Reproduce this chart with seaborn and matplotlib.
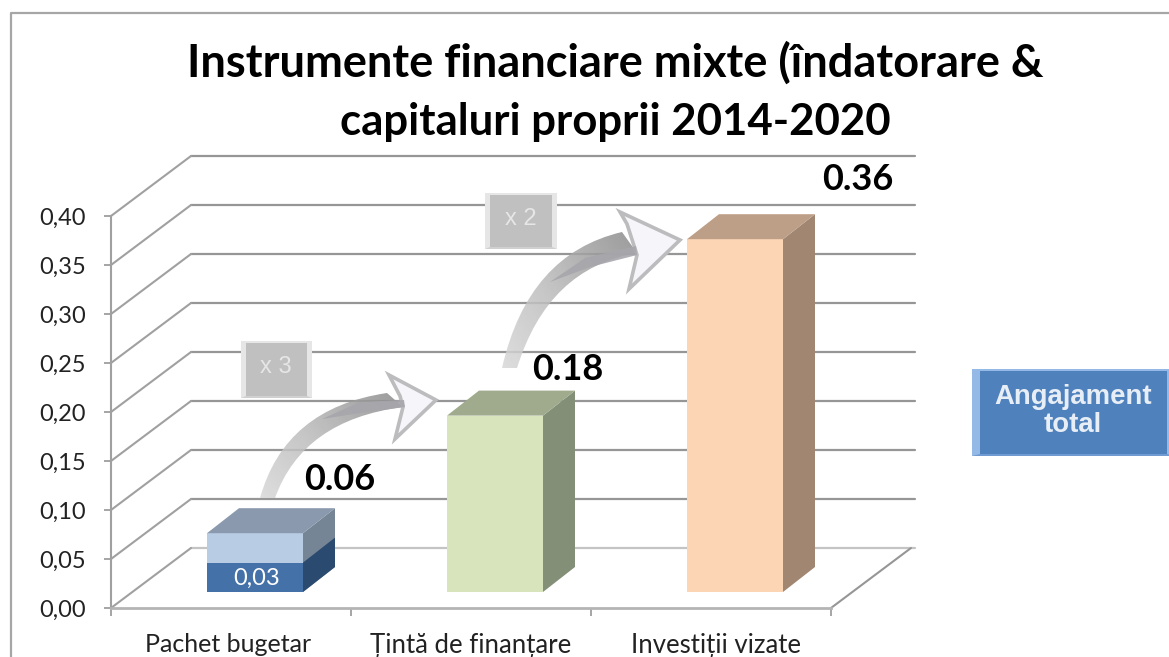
import numpy as np
import pandas as pd
import seaborn as sns
import matplotlib.pyplot as plt
from matplotlib.patches import PathPatch, Polygon, Rectangle
from matplotlib.path import Path
from matplotlib.transforms import Affine2D

# date din grafic
categorii = ['Pachet bugetar', 'Țintă de finanțare', 'Investiții vizate']
total = [0.06, 0.18, 0.36]
pachet = [0.03, 0, 0]
valori_y = [0.00, 0.05, 0.10, 0.15, 0.20, 0.25, 0.30, 0.35, 0.40]
titlu_1 = 'Instrumente financiare mixte (îndatorare &'
titlu_2 = 'capitaluri proprii 2014-2020'

culori_fata = ['#b8cce4', '#d8e4bc', '#fcd5b5']
culori_sus = ['#8a99ad', '#a0ab8d', '#bd9f88']
culori_lat = ['#768595', '#848f78', '#a18672']
fata_jos, lat_jos = '#4472a8', '#2b4a70'

W, H = 1169, 657
sns.set_theme(style='white')
plt.rcParams['font.family'] = ['Lato', 'DejaVu Sans']

fig = plt.figure(figsize=(W / 100, H / 100), dpi=100)
ax = fig.add_axes([111 / W, 1 - 608 / H, 720 / W, 392 / H], facecolor='none')

# scala: 240 px pe categorie, 980 px pe unitate
SX, SY = 1 / 240, 0.4 / 392
px = Affine2D().scale(SX, -SY).translate(-0.5 - 111 * SX, 608 * SY) + ax.transData

# pereti 3D in spatele barelor
PX, PY = 80 * SX, 60 * SY
for v in valori_y:
    c = '#c4c4c4' if v == 0 else '#969696'
    ax.plot([-0.5 + PX, 2.5 + PX + 4 * SX], [v + PY, v + PY], color=c, lw=1.6, clip_on=False, zorder=1)
    ax.plot([-0.5, -0.5 + PX], [v, v + PY], color='#a0a0a0', lw=1.5, clip_on=False, zorder=1)
ax.plot([2.5, 2.5 + PX], [0, PY], color='#969696', lw=1.5, clip_on=False, zorder=1)

df = pd.DataFrame({'categorie': categorii, 'total': total, 'pachet': pachet})
sns.barplot(data=df, x='categorie', y='total', hue='categorie', palette=culori_fata, legend=False,
            width=0.4, saturation=1, ax=ax, zorder=3)
n_total = len(ax.patches)
sns.barplot(data=df, x='categorie', y='pachet', color=fata_jos, width=0.4, saturation=1, ax=ax, zorder=4)

# bare mutate spre interior, cu fete laterale si de sus
BX, BY = 24 * SX, 16 * SY
AX_, AY_ = 32 * SX, 25 * SY
for k, p in enumerate(list(ax.patches)):
    p.set_x(p.get_x() + BX)
    p.set_y(p.get_y() + BY)
    p.set_clip_on(False)
    p.set_linewidth(0)
    x0, x1 = p.get_x(), p.get_x() + p.get_width()
    y0, y1 = p.get_y(), p.get_y() + p.get_height()
    if p.get_height() == 0:
        continue
    i = k % n_total
    lat = culori_lat[i] if k < n_total else lat_jos
    ax.add_patch(Polygon([(x1, y0), (x1 + AX_, y0 + AY_), (x1 + AX_, y1 + AY_), (x1, y1)],
                         fc=lat, lw=0, clip_on=False, zorder=3))
    if k < n_total:
        ax.add_patch(Polygon([(x0, y1), (x0 + AX_, y1 + AY_), (x1 + AX_, y1 + AY_), (x1, y1)],
                             fc=culori_sus[i], lw=0, clip_on=False, zorder=3))

ax.set_xlim(-0.5, 2.5)
ax.set_ylim(0, 0.4)
ax.set_yticks(valori_y)
ax.set_yticklabels([f'{v:.2f}'.replace('.', ',') for v in valori_y], fontsize=17, color='#222222')
ax.set_xticks([0, 1, 2])
ax.set_xticks([-0.5, 0.5, 1.5, 2.5], minor=True)
ax.set_xticklabels(categorii, color='#222222')
ax.set_xlabel('')
ax.set_ylabel('')
ax.tick_params(axis='y', left=True, length=5, width=1.2, color='#969696', pad=13)
ax.tick_params(axis='x', which='major', bottom=False, pad=12)
ax.tick_params(axis='x', which='minor', bottom=True, length=6, width=1.2, color='#969696')
for lab, fs, dx in zip(ax.get_xticklabels(), [18, 18.5, 18.5], [-3, 0, 5]):
    lab.set_fontsize(fs)
    lab.set_transform(lab.get_transform() + Affine2D().translate(dx, 0))
sns.despine(ax=ax)
ax.spines['left'].set(color='#a0a0a0', linewidth=1.5)
ax.spines['bottom'].set(color='#b4b4b4', linewidth=2)

# etichete de valori
decalaje = [(85, 54), (73, 46), (123, 60)]
for i, (v, d) in enumerate(zip(total, decalaje)):
    ax.annotate(f'{v:.2f}', xy=(i + BX, v + BY), xytext=d, textcoords='offset pixels', ha='center', va='center',
                fontsize=26, fontweight='bold', color='black', annotation_clip=False, zorder=8)
ax.annotate(f'{pachet[0]:.2f}'.replace('.', ','), xy=(0 + BX, pachet[0] / 2 + BY), ha='center', va='center',
            xytext=(2, -1), textcoords='offset pixels', fontsize=17, color='white', zorder=8)


def sageata(a, b, c, d, e, varf, crest):
    # a-b-c marginea de sus, d-e-a marginea de jos (px din imagine)
    cod = [Path.MOVETO, Path.CURVE3, Path.CURVE3, Path.LINETO, Path.CURVE3, Path.CURVE3, Path.CLOSEPOLY]
    forma = PathPatch(Path([a, b, c, d, e, (a[0] + 15, a[1]), a], cod), transform=px, fc='none', lw=0, zorder=5)
    ax.add_patch(forma)
    xs = [p[0] for p in (a, c, d)]
    ys = [p[1] for p in (a, c, d)]
    sx0, sy0 = px.transform((min(xs), max(ys)))
    sx1, sy1 = px.transform((max(xs), min(ys)))
    inv = ax.transData.inverted()
    (dx0, dy0), (dx1, dy1) = inv.transform([(sx0, sy0), (sx1, sy1)])
    grad = np.linspace(0, 1, 64)[None, :] * 0.6 + np.linspace(1, 0, 64)[:, None] * 0.4
    im = ax.imshow(grad, extent=(dx0, dx1, dy0, dy1), cmap='Greys', vmin=-0.9, vmax=2.6, aspect='auto',
                   alpha=0.85, zorder=5, origin='upper')
    im.set_clip_path(forma)
    # varful cu umplutura deschisa si contur gri
    ax.add_patch(Polygon(varf, transform=px, fc='#f5f5fa', ec='#bcbcbe', lw=2.6, joinstyle='miter',
                         clip_on=False, zorder=6))
    # dunga inchisa din mijloc
    ax.add_patch(Polygon(crest, transform=px, fc='#a6a6ac', lw=0, alpha=0.9, clip_on=False, zorder=6))


sageata((260, 498), (285, 408), (387, 393), (403, 407), (303, 420),
        [(389, 375), (436, 400), (395, 439), (403, 407), (400, 396)],
        [(322, 419), (360, 402), (404, 400), (405, 407), (360, 413)])
sageata((502, 368), (528, 254), (622, 232), (637, 253), (548, 268),
        [(620, 212), (680, 240), (629, 289), (637, 255), (627, 224)],
        [(550, 282), (585, 258), (636, 246), (637, 255), (590, 267)])


def caseta(x0, y0, x1, y1, fc, lum, bw, bh, umbra=None):
    # dreptunghi cu margini tesite
    ax.add_patch(Rectangle((x0, y0), x1 - x0, y1 - y0, transform=px, fc=lum, lw=0, clip_on=False, zorder=7))
    ax.add_patch(Polygon([(x0 + bw, y0 + bh), (x1 - bw, y0 + bh), (x1 - bw, y1 - bh), (x0 + bw, y1 - bh)],
                         transform=px, fc=fc, lw=0, clip_on=False, zorder=7))
    if umbra:
        ax.add_patch(Polygon([(x0, y1), (x0 + bw, y1 - bh), (x1 - bw, y1 - bh), (x1, y1)],
                             transform=px, fc=umbra, lw=0, clip_on=False, zorder=7))


caseta(241, 341, 312, 398, '#c0c0c0', '#e6e6e6', 5, 2, '#d0d0d0')
caseta(485, 193, 557, 249, '#c0c0c0', '#e6e6e6', 5, 2, '#d0d0d0')
caseta(972, 369, 1175, 456, '#4f81bd', '#95b9e6', 8, 2, '#6f9bd2')
for x, y, t in [(276, 367, 'x 3'), (521, 219, 'x 2')]:
    ax.text(x, y, t, transform=px, ha='center', va='center', fontsize=17, color='#e6e6e6',
            family='Liberation Sans', zorder=8, clip_on=False)
ax.text(1073, 411, 'Angajament\ntotal', transform=px, ha='center', va='center', fontsize=19.8, fontweight='bold',
        color='#e8eef6', family='Liberation Sans', linespacing=1.12, zorder=8, clip_on=False)

# chenarul si titlul
fig.add_artist(plt.Line2D([11 / W, 11 / W, 1], [0, 1 - 13 / H, 1 - 13 / H], color='#a6a6a6', lw=1.6))
fig.text(615.5 / W, 1 - 63 / H, titlu_1, ha='center', va='center', fontsize=32.5, fontweight='bold', color='black')
fig.text(615 / W, 1 - 122 / H, titlu_2, ha='center', va='center', fontsize=31.5, fontweight='bold', color='black')

fig.savefig('out.png', dpi=100)
plt.close(fig)
